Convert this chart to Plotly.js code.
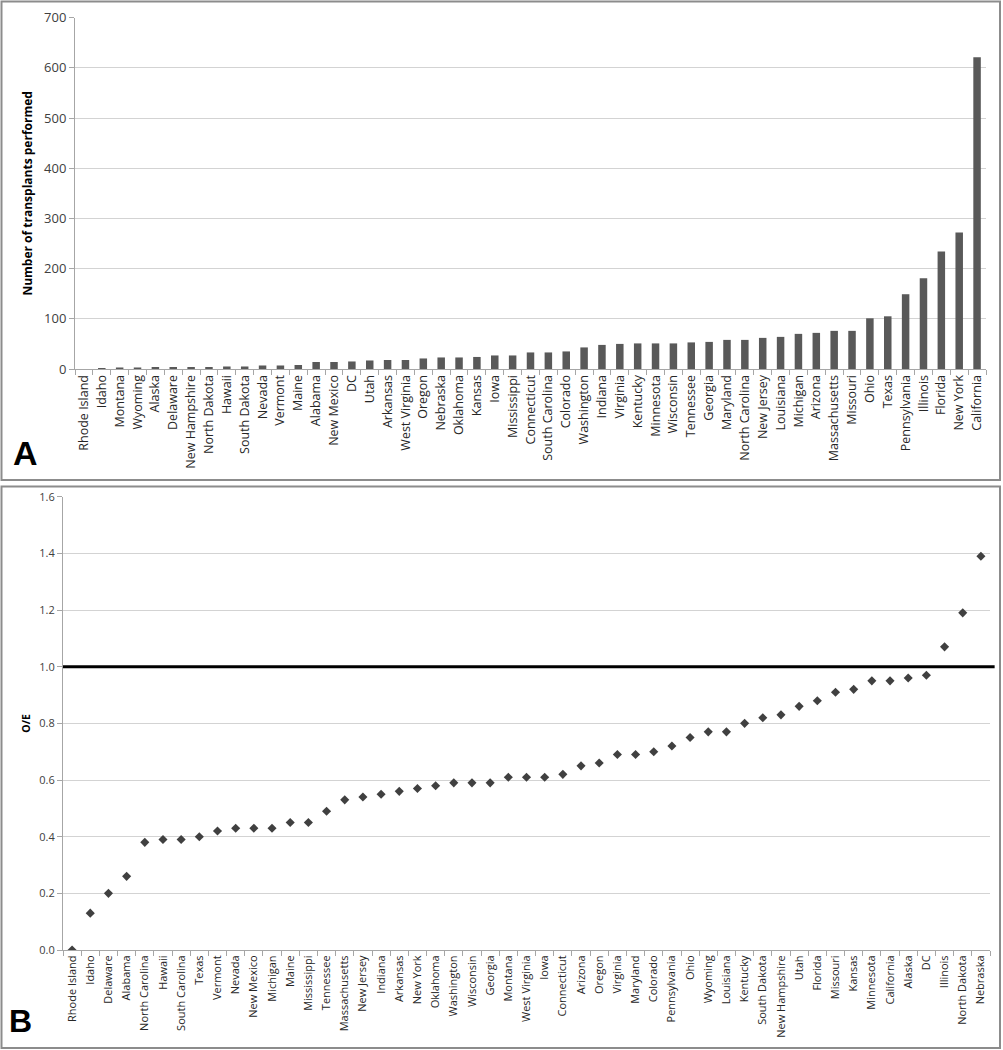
<!DOCTYPE html>
<html>
<head>
<meta charset="utf-8">
<script src="https://cdn.plot.ly/plotly-3.0.1.min.js"></script>
<style>html,body{margin:0;padding:0;background:#fff;}#chart{width:1003px;height:1050px;}</style>
</head>
<body>
<div id="chart"></div>
<script>
// Panel A: number of transplants performed, by state
const statesA = ["Rhode Island","Idaho","Montana","Wyoming","Alaska","Delaware","New Hampshire","North Dakota","Hawaii","South Dakota","Nevada","Vermont","Maine","Alabama","New Mexico","DC","Utah","Arkansas","West Virginia","Oregon","Nebraska","Oklahoma","Kansas","Iowa","Mississippi","Connecticut","South Carolina","Colorado","Washington","Indiana","Virginia","Kentucky","Minnesota","Wisconsin","Tennessee","Georgia","Maryland","North Carolina","New Jersey","Louisiana","Michigan","Arizona","Massachusetts","Missouri","Ohio","Texas","Pennsylvania","Illinois","Florida","New York","California"];
const transplants = [0,2,3,3,4,4,4,4,5,5,7,7,8,14,14,15,17,18,18,21,23,23,24,27,27,33,33,35,43,48,50,51,51,51,53,54,58,58,62,64,70,72,76,76,101,105,149,181,234,272,621];
const tickValsA = [0,100,200,300,400,500,600,700];

// Panel B: observed / expected ratio, by state
const statesB = ["Rhode Island","Idaho","Delaware","Alabama","North Carolina","Hawaii","South Carolina","Texas","Vermont","Nevada","New Mexico","Michigan","Maine","Mississippi","Tennessee","Massachusetts","New Jersey","Indiana","Arkansas","New York","Oklahoma","Washington","Wisconsin","Georgia","Montana","West Virginia","Iowa","Connecticut","Arizona","Oregon","Virginia","Maryland","Colorado","Pennsylvania","Ohio","Wyoming","Louisiana","Kentucky","South Dakota","New Hampshire","Utah","Florida","Missouri","Kansas","Minnesota","California","Alaska","DC","Illinois","North Dakota","Nebraska"];
const oeRatio = [0.00,0.13,0.20,0.26,0.38,0.39,0.39,0.40,0.42,0.43,0.43,0.43,0.45,0.45,0.49,0.53,0.54,0.55,0.56,0.57,0.58,0.59,0.59,0.59,0.61,0.61,0.61,0.62,0.65,0.66,0.69,0.69,0.70,0.72,0.75,0.77,0.77,0.80,0.82,0.83,0.86,0.88,0.91,0.92,0.95,0.95,0.96,0.97,1.07,1.19,1.39];
const tickValsB = [0,0.2,0.4,0.6,0.8,1.0,1.2,1.4,1.6];
const referenceOE = 1.0;

const FONT = "Open Sans, Liberation Sans, sans-serif";
const TXT = "#404040";
const GRID = "#d3d3d3";
const AXIS = "#a6a6a6";
const H = 1050, W = 1003;

const traces = [
  {type:"bar", x:statesA, y:transplants, xaxis:"x", yaxis:"y",
   marker:{color:"#595959"}, hoverinfo:"x+y"},
  {type:"scatter", mode:"markers", x:statesB, y:oeRatio, xaxis:"x2", yaxis:"y2",
   marker:{symbol:"diamond", size:7, color:"#404040"}, hoverinfo:"x+y"}
];

const layout = {
  width:W, height:H,
  margin:{l:0,r:0,t:0,b:0},
  paper_bgcolor:"#fff", plot_bgcolor:"#fff",
  showlegend:false,
  bargap:0.58,
  font:{family:FONT, color:TXT},
  xaxis:{domain:[75/W, 986/W], anchor:"y", type:"category",
    range:[-0.5, statesA.length-0.5],
    tickangle:-90, tickfont:{size:12.5, color:"#262626"},
    showgrid:false, showline:true, linecolor:AXIS, linewidth:1,
    ticks:"outside", tickson:"boundaries", ticklen:5, tickcolor:AXIS,
    automargin:false, fixedrange:true},
  yaxis:{domain:[(H-369)/H, (H-17.7)/H], anchor:"x", range:[0,700],
    tickvals:tickValsA, tickfont:{size:13, color:TXT},
    showgrid:true, gridcolor:GRID, gridwidth:1,
    showline:true, linecolor:AXIS, ticks:"outside", ticklen:5, tickcolor:AXIS,
    zeroline:false, automargin:false,
    title:{text:"<b>Number of transplants performed</b>", font:{size:12, color:"#000"}, standoff:8}},
  xaxis2:{domain:[63/W, 990/W], anchor:"y2", type:"category",
    range:[-0.5, statesB.length-0.5],
    tickangle:-90, tickfont:{size:11, color:"#262626"},
    showgrid:false, showline:true, linecolor:AXIS, linewidth:1,
    ticks:"outside", tickson:"boundaries", ticklen:5, tickcolor:AXIS,
    automargin:false},
  yaxis2:{domain:[(H-950)/H, (H-496.7)/H], anchor:"x2", range:[0,1.6],
    tickvals:tickValsB, tickformat:".1f", tickfont:{size:11, color:TXT},
    showgrid:true, gridcolor:GRID, gridwidth:1,
    showline:true, linecolor:AXIS, ticks:"outside", ticklen:5, tickcolor:AXIS,
    zeroline:false, automargin:false,
    title:{text:"<b>O/E</b>", font:{size:10.5, color:"#000"}, standoff:6}},
  shapes:[
    {type:"rect", xref:"paper", yref:"paper", x0:1.5/W, x1:1000/W, y0:(H-480)/H, y1:(H-1.5)/H,
     line:{color:"#8c8c8c", width:2}},
    {type:"rect", xref:"paper", yref:"paper", x0:1.5/W, x1:1000/W, y0:(H-1048)/H, y1:(H-486.5)/H,
     line:{color:"#8c8c8c", width:2}},
    {type:"line", xref:"x2 domain", yref:"y2", x0:0, x1:1.005, y0:referenceOE, y1:referenceOE,
     line:{color:"#000", width:3}}
  ],
  annotations:[
    {text:"<b>A</b>", xref:"paper", yref:"paper", x:11/W, y:(H-453)/H, xanchor:"left", yanchor:"middle",
     showarrow:false, font:{family:"Liberation Sans, Arial, sans-serif", size:34, color:"#000"}},
    {text:"<b>B</b>", xref:"paper", yref:"paper", x:7/W, y:(H-1021)/H, xanchor:"left", yanchor:"middle",
     showarrow:false, font:{family:"Liberation Sans, Arial, sans-serif", size:32, color:"#000"}}
  ]
};

Plotly.newPlot("chart", traces, layout, {displayModeBar:false, staticPlot:true});
</script>
</body>
</html>
